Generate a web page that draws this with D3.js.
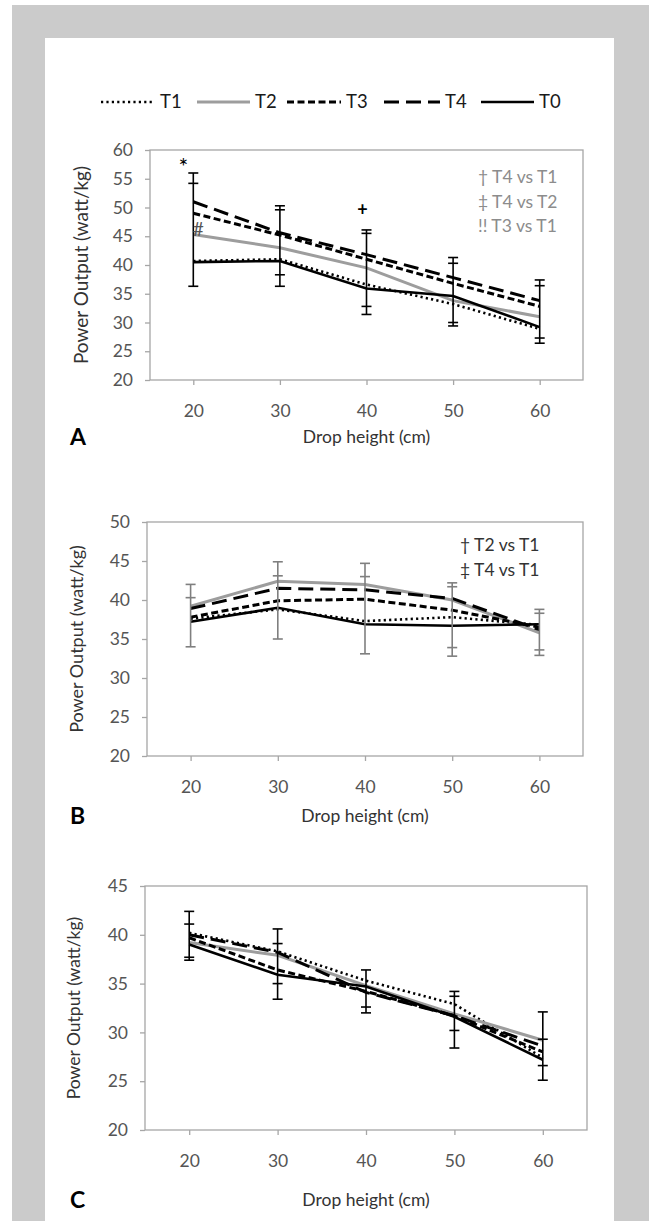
<!DOCTYPE html>
<meta charset="utf-8" />
<script src="https://d3js.org/d3.v7.min.js"></script>
<style>
  body { margin: 0; background: #fff; }
  text { font-family: Lato, "Open Sans", sans-serif; }
</style>
<div id="chart"></div>
<script>
  // drop heights (cm)
  var heights = [20, 30, 40, 50, 60];
  var seriesNames = ["T1", "T2", "T3", "T4", "T0"];

  // panel A
  var aT1 = [40.7, 41.0, 36.6, 33.2, 28.9];
  var aT2 = [45.3, 43.0, 39.5, 33.8, 31.0];
  var aT3 = [49.0, 45.2, 41.0, 36.8, 32.8];
  var aT4 = [51.0, 45.6, 41.8, 37.8, 33.8];
  var aT0 = [40.5, 40.7, 35.9, 34.6, 29.2];
  var aErr = [[56.0, 54.2, 36.3], [50.3, 49.6, 38.3, 36.3], [46.1, 45.5, 32.8, 31.4],
              [41.3, 40.3, 30.0, 29.4], [37.4, 36.4, 27.3, 26.4]];
  var aTicks = [20, 25, 30, 35, 40, 45, 50, 55, 60];
  var aNotes = ["† T4 vs T1", "‡ T4 vs T2", "!! T3 vs T1"];

  // panel B
  var bT1 = [37.6, 38.8, 37.3, 37.8, 36.8];
  var bT2 = [39.2, 42.4, 42.0, 40.0, 35.8];
  var bT3 = [37.8, 39.9, 40.1, 38.7, 36.5];
  var bT4 = [38.9, 41.5, 41.3, 40.2, 36.2];
  var bT0 = [37.2, 39.0, 36.9, 36.7, 36.9];
  var bErr = [[42.0, 40.3, 34.0], [44.9, 43.1, 35.0], [44.7, 43.0, 33.1],
              [42.2, 41.7, 33.9, 32.8], [38.8, 38.3, 33.6, 32.9]];
  var bTicks = [20, 25, 30, 35, 40, 45, 50];
  var bNotes = ["† T2 vs T1", "‡ T4 vs T1"];

  // panel C
  var cT1 = [40.2, 38.3, 35.3, 32.9, 27.4];
  var cT2 = [39.2, 37.9, 34.8, 31.9, 29.2];
  var cT3 = [39.7, 36.4, 34.2, 31.7, 28.0];
  var cT4 = [40.0, 38.2, 34.1, 31.7, 28.6];
  var cT0 = [39.0, 35.9, 34.7, 31.6, 27.2];
  var cErr = [[42.4, 41.1, 37.7, 37.4], [40.6, 39.1, 35.0, 33.4], [36.4, 32.6, 32.0],
              [34.2, 33.7, 30.2, 28.4], [32.1, 29.3, 26.6, 25.1]];
  var cTicks = [20, 25, 30, 35, 40, 45];

  // line look per series
  var styles = {
    T1: { color: "#000", width: 2.6, dash: "2.2,3.2" },
    T2: { color: "#9d9d9d", width: 3, dash: null },
    T3: { color: "#000", width: 3, dash: "7,3.5" },
    T4: { color: "#000", width: 3, dash: "15,7" },
    T0: { color: "#000", width: 2.6, dash: null }
  };

  var W = 649, H = 1221;
  var svg = d3.select("#chart").append("svg").attr("width", W).attr("height", H);

  // grey frame round the white sheet
  svg.append("rect").attr("x", 12).attr("y", 5).attr("width", W - 12).attr("height", H - 5).attr("fill", "#cbcbcb");
  svg.append("rect").attr("x", 45).attr("y", 38).attr("width", 569).attr("height", H - 38).attr("fill", "#fff");

  // legend
  var legendItems = [
    { name: "T1", x1: 101, x2: 155 },
    { name: "T2", x1: 197, x2: 250 },
    { name: "T3", x1: 287, x2: 341 },
    { name: "T4", x1: 384, x2: 440 },
    { name: "T0", x1: 481, x2: 534 }
  ];
  var legY = 102;
  legendItems.forEach(function (d) {
    var s = styles[d.name];
    svg.append("line")
      .attr("x1", d.x1).attr("x2", d.x2).attr("y1", legY).attr("y2", legY)
      .attr("stroke", s.color).attr("stroke-width", s.width)
      .attr("stroke-dasharray", s.dash);
    svg.append("text").attr("x", d.x2 + 5).attr("y", legY).attr("dy", "0.35em")
      .attr("font-size", 18.5).attr("fill", "#1a1a1a").text(d.name);
  });

  function drawPanel(p) {
    var x = d3.scalePoint().domain(heights).range([p.left, p.right]).padding(0.5);
    var y = d3.scaleLinear().domain([p.ticks[0], p.ticks[p.ticks.length - 1]]).range([p.bottom, p.top]);
    var g = svg.append("g");

    // plot frame
    g.append("rect").attr("x", p.left).attr("y", p.top)
      .attr("width", p.right - p.left).attr("height", p.bottom - p.top)
      .attr("fill", "none").attr("stroke", "#a6a6a6").attr("stroke-width", 1.3);

    var yAxis = g.append("g").attr("transform", "translate(" + p.left + ",0)")
      .call(d3.axisLeft(y).tickValues(p.ticks).tickSize(5).tickPadding(12));
    var xAxis = g.append("g").attr("transform", "translate(0," + p.bottom + ")")
      .call(d3.axisBottom(x).tickSize(5).tickPadding(p.xPad));
    [yAxis, xAxis].forEach(function (a) {
      a.select(".domain").remove();
      a.selectAll(".tick line").attr("stroke", "#a6a6a6").attr("stroke-width", 1.3);
      a.selectAll(".tick text").attr("fill", "#555").attr("font-size", 17.5)
        .attr("font-family", "Lato, sans-serif");
    });

    // lines
    var line = d3.line().x(function (d, i) { return x(heights[i]); }).y(function (d) { return y(d); });
    seriesNames.forEach(function (n) {
      var s = styles[n];
      g.append("path").datum(p.data[n]).attr("d", line)
        .attr("fill", "none").attr("stroke", s.color).attr("stroke-width", s.width)
        .attr("stroke-dasharray", s.dash);
    });

    // error bars
    p.err.forEach(function (caps, i) {
      var cx = x(heights[i]);
      g.append("line").attr("x1", cx).attr("x2", cx)
        .attr("y1", y(d3.max(caps))).attr("y2", y(d3.min(caps)))
        .attr("stroke", p.errColor).attr("stroke-width", 1.6);
      caps.forEach(function (c) {
        g.append("line").attr("x1", cx - 5).attr("x2", cx + 5)
          .attr("y1", y(c)).attr("y2", y(c))
          .attr("stroke", p.errColor).attr("stroke-width", 1.6);
      });
    });

    // notes
    p.notes.forEach(function (t, i) {
      g.append("text").attr("x", p.noteX).attr("y", p.noteY + i * p.noteGap).attr("dy", "0.35em")
        .attr("font-size", 17.5).attr("fill", p.noteColor).text(t);
    });

    // axis titles
    g.append("text").attr("x", (p.left + p.right) / 2).attr("y", p.titleY).attr("dy", "0.35em")
      .attr("text-anchor", "middle").attr("font-size", p.titleSize).attr("fill", "#333").text("Drop height (cm)");
    g.append("text").attr("transform", "translate(" + p.yTitleX + "," + (p.top + p.bottom) / 2 + ") rotate(-90)")
      .attr("dy", "0.35em").attr("text-anchor", "middle").attr("font-size", p.yTitleSize)
      .attr("fill", "#333").text("Power Output (watt/kg)");

    // panel letter
    g.append("text").attr("x", 70).attr("y", p.titleY).attr("dy", "0.36em")
      .attr("font-family", "Liberation Sans, Arial, sans-serif").attr("font-weight", "bold")
      .attr("font-size", 23).attr("fill", "#000").text(p.letter);

    return { x: x, y: y, g: g };
  }

  var pa = drawPanel({
    letter: "A", left: 150, right: 583, top: 150, bottom: 380, ticks: aTicks, xPad: 20,
    data: { T1: aT1, T2: aT2, T3: aT3, T4: aT4, T0: aT0 }, err: aErr, errColor: "#000",
    notes: aNotes, noteX: 478, noteY: 177, noteGap: 24.5, noteColor: "#8c8c8c",
    titleY: 437, titleSize: 17.5, yTitleX: 81, yTitleSize: 19
  });
  // significance marks in panel A
  pa.g.append("text").attr("x", pa.x(20) - 10).attr("y", pa.y(55.6))
    .attr("text-anchor", "middle").attr("font-size", 23).attr("fill", "#000").text("*");
  pa.g.append("text").attr("x", pa.x(20) + 5).attr("y", pa.y(46.2)).attr("dy", "0.35em")
    .attr("text-anchor", "middle").attr("font-size", 19).attr("fill", "#555").text("#");
  pa.g.append("text").attr("x", pa.x(40) - 4).attr("y", pa.y(49.6)).attr("dy", "0.35em")
    .attr("text-anchor", "middle").attr("font-size", 18).attr("font-weight", "bold").attr("fill", "#000").text("+");

  drawPanel({
    letter: "B", left: 147, right: 583, top: 522, bottom: 756, ticks: bTicks, xPad: 20,
    data: { T1: bT1, T2: bT2, T3: bT3, T4: bT4, T0: bT0 }, err: bErr, errColor: "#7f7f7f",
    notes: bNotes, noteX: 460, noteY: 545, noteGap: 24.5, noteColor: "#333",
    titleY: 816, titleSize: 17.5, yTitleX: 77, yTitleSize: 18
  });

  drawPanel({
    letter: "C", left: 145, right: 587, top: 886, bottom: 1130, ticks: cTicks, xPad: 20,
    data: { T1: cT1, T2: cT2, T3: cT3, T4: cT4, T0: cT0 }, err: cErr, errColor: "#000",
    notes: [], noteX: 0, noteY: 0, noteGap: 0, noteColor: "#333",
    titleY: 1200, titleSize: 17.5, yTitleX: 74, yTitleSize: 17.5
  });
</script>
